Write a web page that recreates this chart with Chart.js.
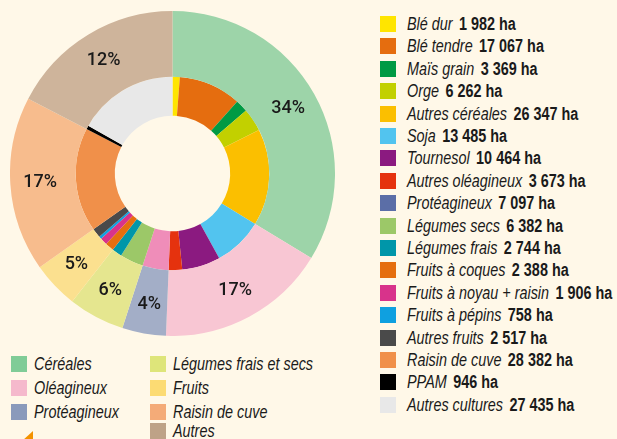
<!DOCTYPE html>
<html>
<head>
<meta charset="utf-8">
<script src="https://cdn.jsdelivr.net/npm/chart.js@4"></script>
<style>
  html, body { margin: 0; padding: 0; }
  body { width: 617px; height: 439px; background: #fff8e8; position: relative; overflow: hidden;
         font-family: "Liberation Sans", Arial, sans-serif; }
  #wrap { position: absolute; left: 10px; top: 11px; width: 325px; height: 325px; }
  .leg { position: absolute; font-size: 18px; color: #1a1a1a; white-space: nowrap; }
  .row { position: absolute; height: 18px; line-height: 18px; }
  .sw { position: absolute; left: 0; top: 1px; width: 16px; height: 16px; }
  .tx { position: absolute; left: 27px; top: 0; display: inline-block; transform: scaleX(0.8); transform-origin: 0 50%; }
  .nm { font-style: italic; }
  .val { font-weight: bold; margin-left: 8px; }
  #arrow { position: absolute; left: 22px; top: 431px; width: 0; height: 0;
           border-left: 11px solid transparent; border-bottom: 10px solid #f39200; }
</style>
</head>
<body>
<div id="wrap"><canvas id="c" width="325" height="325"></canvas></div>
<div id="legR" class="leg"></div>
<div id="legB" class="leg"></div>
<div id="arrow"></div>
<script>
// Inner ring: crops (ha)
const crops = ["Blé dur","Blé tendre","Maïs grain","Orge","Autres céréales","Soja","Tournesol","Autres oléagineux","Protéagineux","Légumes secs","Légumes frais","Fruits à coques","Fruits à noyau + raisin","Fruits à pépins","Autres fruits","Raisin de cuve","PPAM","Autres cultures"];
const cropHa = [1982,17067,3369,6262,26347,13485,10464,3673,7097,6382,2744,2388,1906,758,2517,28382,946,27435];
const cropValueLabels = ["1 982 ha","17 067 ha","3 369 ha","6 262 ha","26 347 ha","13 485 ha","10 464 ha","3 673 ha","7 097 ha","6 382 ha","2 744 ha","2 388 ha","1 906 ha","758 ha","2 517 ha","28 382 ha","946 ha","27 435 ha"];
const cropColors = ["#ffe500","#e56d0f","#009a44","#c2d000","#fbbf00","#52c4ef","#8b1a80","#e5320e","#ef8db9","#9cc868","#0096a9","#e56e0f","#d8338b","#0fa0e0","#4a4a4a","#f0904a","#000000","#e8e8e8"];
const cropLegendColors = ["#ffe500","#e56d0f","#009a44","#c2d000","#fbbf00","#52c4ef","#8b1a80","#e5320e","#5b6ea7","#9cc868","#0096a9","#e56e0f","#d8338b","#0fa0e0","#4a4a4a","#f0904a","#000000","#e8e8e8"];

// Outer ring: groups (ha)
const groups = ["Céréales","Oléagineux","Protéagineux","Légumes frais et secs","Fruits","Raisin de cuve","Autres"];
const groupHa = [55027,27622,7097,9126,7569,28382,28381];
const groupPctLabels = ["34%","17%","4%","6%","5%","17%","12%"];
const groupColors = ["#9dd4a9","#f8c6d3","#a3aec7","#e5e68f","#fbe08f","#f7bc8d","#ceb49b"];
const groupLegendColors = ["#80cc97","#f5b9cc","#8a9abb","#dee57a","#fcdb73","#f4ab78","#bea287"];

// Right legend
const legR = document.getElementById('legR');
legR.style.left = '380px'; legR.style.top = '15px';
crops.forEach((n, i) => {
  const r = document.createElement('div');
  r.className = 'row';
  r.style.top = (i * 22.4) + 'px';
  r.innerHTML = '<div class="sw" style="background:' + cropLegendColors[i] + '"></div>' +
    '<div class="tx"><span class="nm">' + n + '</span><span class="val">' + cropValueLabels[i] + '</span></div>';
  legR.appendChild(r);
});

// Bottom legend (two columns)
const legB = document.getElementById('legB');
legB.style.left = '11px'; legB.style.top = '355px';
const bottomPos = [[0,0],[0,24],[0,48],[139,0],[139,24],[139,48],[139,67]];
groups.forEach((n, i) => {
  const r = document.createElement('div');
  r.className = 'row';
  r.style.left = bottomPos[i][0] + 'px';
  r.style.top = bottomPos[i][1] + 'px';
  r.innerHTML = '<div class="sw" style="background:' + groupLegendColors[i] + '"></div>' +
    '<div class="tx" style="left:23px"><span class="nm">' + n + '</span></div>';
  legB.appendChild(r);
});

const pctPlugin = {
  id: 'pct',
  afterDatasetsDraw(chart) {
    const ctx = chart.ctx;
    const meta = chart.getDatasetMeta(0);
    ctx.save();
    ctx.font = '500 18px Roboto, "DejaVu Sans", sans-serif';
    ctx.fillStyle = '#1a1a1a';
    ctx.textAlign = 'center';
    ctx.textBaseline = 'middle';
    meta.data.forEach((arc, i) => {
      const p = arc.getProps(['x','y','startAngle','endAngle','innerRadius','outerRadius'], true);
      const a = (p.startAngle + p.endAngle) / 2;
      const r = (p.innerRadius + p.outerRadius) / 2 + 3;
      ctx.fillText(groupPctLabels[i], p.x + Math.cos(a) * r, p.y + Math.sin(a) * r);
    });
    ctx.restore();
  }
};

new Chart(document.getElementById('c'), {
  type: 'doughnut',
  data: {
    labels: crops,
    datasets: [
      { data: groupHa, backgroundColor: groupColors, borderWidth: 0, weight: 65.5 },
      { data: cropHa, backgroundColor: cropColors, borderWidth: 0, weight: 39 }
    ]
  },
  options: {
    responsive: false,
    animation: false,
    cutout: '35.5%',
    layout: { padding: 0 },
    plugins: { legend: { display: false }, tooltip: { enabled: false } }
  },
  plugins: [pctPlugin]
});
</script>
</body>
</html>
